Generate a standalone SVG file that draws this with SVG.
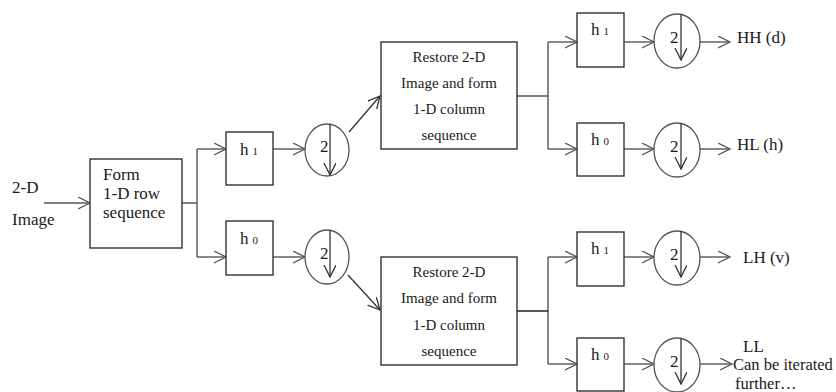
<svg xmlns="http://www.w3.org/2000/svg" width="836" height="392" viewBox="0 0 836 392" font-family="'Liberation Serif', 'DejaVu Serif', serif">
<defs>
<marker id="ah" markerUnits="userSpaceOnUse" markerWidth="14" markerHeight="14" refX="12" refY="6" orient="auto">
<path d="M0,0 L12,6 L0,12" fill="none" stroke="#555" stroke-width="1.3"/>
</marker>
<marker id="ahk" markerUnits="userSpaceOnUse" markerWidth="14" markerHeight="14" refX="12" refY="6" orient="auto">
<path d="M0,0 L12,6 L0,12" fill="none" stroke="#333" stroke-width="1.3"/>
</marker>
</defs>
<style>
text{font-family:'Liberation Serif','DejaVu Serif',serif;fill:#1a1a1a}
.box{fill:#fff;stroke:#333;stroke-width:1.4}
.circ{fill:#fff;stroke:#555;stroke-width:1.3}
.c{fill:none;stroke:#555;stroke-width:1.4}
.a{fill:none;stroke:#555;stroke-width:1.4;marker-end:url(#ah)}
.d{fill:none;stroke:#333;stroke-width:1.3;marker-end:url(#ahk)}
.t17{font-size:17px}
.t15{font-size:15px}
.h{font-size:17px}
.sub{font-size:11px}
.two{font-size:17px}
</style>
<rect width="836" height="392" fill="#fff"/>

<g id="connectors">
<path class="a" d="M44,203 H90"/>
<path class="c" d="M182,203 H197 M197,149 V257"/>
<path class="a" d="M197,149 H226"/>
<path class="a" d="M197,257 H226"/>
<path class="a" d="M273,149 H305"/>
<path class="a" d="M273,257 H305"/>
<path class="d" d="M349,132 L380,96"/>
<path class="d" d="M348,275 L380,310"/>
<path class="c" d="M517,96 H548 M548,42 V149"/>
<path class="a" d="M548,42 H577"/>
<path class="a" d="M548,149 H577"/>
<path class="c" d="M548,257 V364" />
<path d="M517,311 H548" fill="none" stroke="#111" stroke-width="1.4"/>
<path class="a" d="M548,257 H577"/>
<path class="a" d="M548,364 H577"/>
<path class="a" d="M624,42 H654"/>
<path class="a" d="M624,149 H654"/>
<path class="a" d="M624,257 H654"/>
<path class="a" d="M624,364 H654"/>
<path class="a" d="M700,42 H730"/>
<path class="a" d="M700,149 H730"/>
<path class="a" d="M700,257 H730"/>
<path class="a" d="M700,364 H732"/>
</g>

<g id="input-label">
<text class="t17" x="12" y="193">2-D</text>
<text class="t17" x="12" y="225">Image</text>
</g>

<g id="form-row">
<rect class="box" x="90" y="159" width="92" height="89"/>
<text class="t17" x="103" y="180">Form</text>
<text class="t17" x="103" y="199">1-D row</text>
<text class="t17" x="103" y="218">sequence</text>
</g>

<g id="h1-a">
<rect class="box" x="226" y="132" width="47" height="53"/>
<text class="h" x="240" y="155">h<tspan class="sub" dx="4">1</tspan></text>
</g>
<g id="h0-a">
<rect class="box" x="226" y="221" width="47" height="54"/>
<text class="h" x="240" y="244">h<tspan class="sub" dx="4">0</tspan></text>
</g>

<g id="down-a1">
<ellipse class="circ" cx="327" cy="150" rx="22" ry="26"/>
<text class="two" x="320" y="152">2</text>
<path class="d" d="M330,124 V175"/>
</g>
<g id="down-a0">
<ellipse class="circ" cx="327" cy="257" rx="22" ry="27"/>
<text class="two" x="320" y="259">2</text>
<path class="d" d="M330,230 V277"/>
</g>

<g id="restore-top">
<rect class="box" x="381" y="42" width="136" height="107"/>
<text class="t15" x="449" y="62" text-anchor="middle">Restore 2-D</text>
<text class="t15" x="449" y="88" text-anchor="middle">Image and form</text>
<text class="t15" x="449" y="114" text-anchor="middle">1-D column</text>
<text class="t15" x="449" y="140" text-anchor="middle">sequence</text>
</g>
<g id="restore-bottom">
<rect class="box" x="381" y="257" width="136" height="108"/>
<text class="t15" x="449" y="277" text-anchor="middle">Restore 2-D</text>
<text class="t15" x="449" y="303" text-anchor="middle">Image and form</text>
<text class="t15" x="449" y="330" text-anchor="middle">1-D column</text>
<text class="t15" x="449" y="356" text-anchor="middle">sequence</text>
</g>

<g id="h1-hh">
<rect class="box" x="577" y="13" width="47" height="54"/>
<text class="h" x="591" y="35">h<tspan class="sub" dx="4">1</tspan></text>
</g>
<g id="h0-hl">
<rect class="box" x="577" y="123" width="47" height="53"/>
<text class="h" x="591" y="145">h<tspan class="sub" dx="4">0</tspan></text>
</g>
<g id="h1-lh">
<rect class="box" x="577" y="232" width="47" height="54"/>
<text class="h" x="591" y="254">h<tspan class="sub" dx="4">1</tspan></text>
</g>
<g id="h0-ll">
<rect class="box" x="577" y="338" width="47" height="53"/>
<text class="h" x="591" y="360">h<tspan class="sub" dx="4">0</tspan></text>
</g>

<g id="down-hh">
<ellipse class="circ" cx="677" cy="41" rx="23" ry="27"/>
<text class="two" x="670" y="43">2</text>
<path class="d" d="M681,14 V60"/>
</g>
<g id="down-hl">
<ellipse class="circ" cx="677" cy="150" rx="23" ry="27"/>
<text class="two" x="670" y="152">2</text>
<path class="d" d="M681,123 V169"/>
</g>
<g id="down-lh">
<ellipse class="circ" cx="677" cy="258" rx="23" ry="27"/>
<text class="two" x="670" y="260">2</text>
<path class="d" d="M681,231 V277"/>
</g>
<g id="down-ll">
<ellipse class="circ" cx="677" cy="365" rx="23" ry="27"/>
<text class="two" x="670" y="367">2</text>
<path class="d" d="M681,338 V384"/>
</g>

<g id="outputs">
<text class="t17" x="737" y="43">HH (d)</text>
<text class="t17" x="737" y="150">HL (h)</text>
<text class="t17" x="743" y="263">LH (v)</text>
<text class="t17" x="743" y="352">LL</text>
<text x="733" y="370" font-size="16.5">Can be iterated</text>
<text x="735" y="389" font-size="16.5">further…</text>
</g>
</svg>
